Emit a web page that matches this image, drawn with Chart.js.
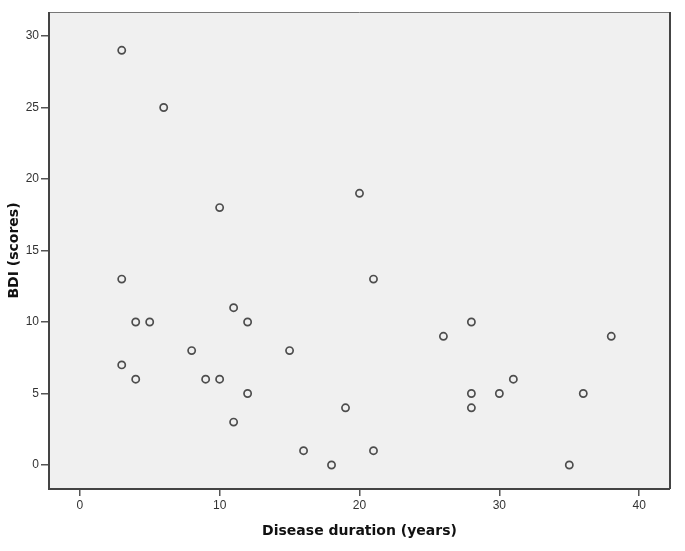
<!DOCTYPE html>
<html>
<head>
<meta charset="utf-8">
<script src="https://cdn.jsdelivr.net/npm/chart.js@4/dist/chart.umd.min.js"></script>
<style>
  html, body { margin: 0; padding: 0; background: #ffffff; }
  #wrap { width: 685px; height: 551px; }
</style>
</head>
<body>
<div id="wrap"><canvas id="c" width="685" height="551"></canvas></div>
<script>
// Disease duration (years)
const durationYears = [3, 6, 10, 20, 3, 21, 11, 4, 5, 12, 28, 26, 38, 8, 15, 3, 4, 9, 10, 31, 12, 28, 30, 36, 19, 28, 11, 16, 21, 18, 35];
// BDI (scores)
const bdiScores    = [29, 25, 18, 19, 13, 13, 11, 10, 10, 10, 10, 9, 9, 8, 8, 7, 6, 6, 6, 6, 5, 5, 5, 5, 4, 4, 3, 1, 1, 0, 0];
const xTickValues = [0, 10, 20, 30, 40];
const yTickValues = [0, 5, 10, 15, 20, 25, 30];
const xLabel = 'Disease duration (years)';
const yLabel = 'BDI (scores)';

const points = durationYears.map((x, i) => ({ x: x, y: bdiScores[i] }));

const framePlugin = {
  id: 'frame',
  beforeDatasetsDraw(chart) {
    const a = chart.chartArea, ctx = chart.ctx;
    ctx.save();
    ctx.fillStyle = '#f0f0f0';
    ctx.fillRect(a.left, a.top, a.right - a.left, a.bottom - a.top);
    ctx.strokeStyle = '#777777';
    ctx.lineWidth = 1;
    ctx.beginPath();
    ctx.moveTo(a.left, a.top + 0.5);
    ctx.lineTo(a.right, a.top + 0.5);
    ctx.stroke();
    ctx.strokeStyle = '#444444';
    ctx.lineWidth = 2;
    ctx.beginPath();
    ctx.moveTo(a.right, a.top);
    ctx.lineTo(a.right, a.bottom);
    ctx.moveTo(a.left, a.top);
    ctx.lineTo(a.left, a.bottom);
    ctx.lineTo(a.right, a.bottom);
    ctx.stroke();
    ctx.restore();
  }
};

new Chart(document.getElementById('c'), {
  type: 'scatter',
  data: {
    datasets: [{
      data: points,
      pointRadius: 3.6,
      pointHoverRadius: 3.6,
      pointBorderWidth: 1.7,
      pointBorderColor: '#4d4d4d',
      pointBackgroundColor: 'rgba(0,0,0,0)'
    }]
  },
  options: {
    responsive: false,
    animation: false,
    devicePixelRatio: 1,
    layout: { padding: { top: 12, right: 15, left: 0, bottom: 0 } },
    plugins: { legend: { display: false }, tooltip: { enabled: false } },
    scales: {
      x: {
        type: 'linear',
        min: -2.2,
        max: 42.2,
        afterBuildTicks(scale) { scale.ticks = xTickValues.map(v => ({ value: v })); },
        afterFit(scale) { scale.height = 62; },
        grid: { drawOnChartArea: false, drawTicks: true, tickLength: 7, color: '#555555', lineWidth: 1.5 },
        border: { display: false },
        ticks: { color: '#333333', font: { family: 'Liberation Sans, Arial', size: 12 }, padding: 2, maxRotation: 0 },
        title: { display: true, text: xLabel, color: '#111111', font: { family: 'DejaVu Sans', size: 14, weight: 'bold' }, padding: { top: 0, bottom: 11 } }
      },
      y: {
        type: 'linear',
        min: -1.68,
        max: 31.68,
        afterBuildTicks(scale) { scale.ticks = yTickValues.map(v => ({ value: v })); },
        afterFit(scale) { scale.width = 49; },
        grid: { drawOnChartArea: false, drawTicks: true, tickLength: 8, color: '#555555', lineWidth: 1.5 },
        border: { display: false },
        ticks: { color: '#333333', font: { family: 'Liberation Sans, Arial', size: 12 }, padding: 2 },
        title: { display: true, text: yLabel, color: '#111111', font: { family: 'DejaVu Sans', size: 14, weight: 'bold' }, padding: { top: 6, bottom: 0 } }
      }
    }
  },
  plugins: [framePlugin]
});
</script>
</body>
</html>
